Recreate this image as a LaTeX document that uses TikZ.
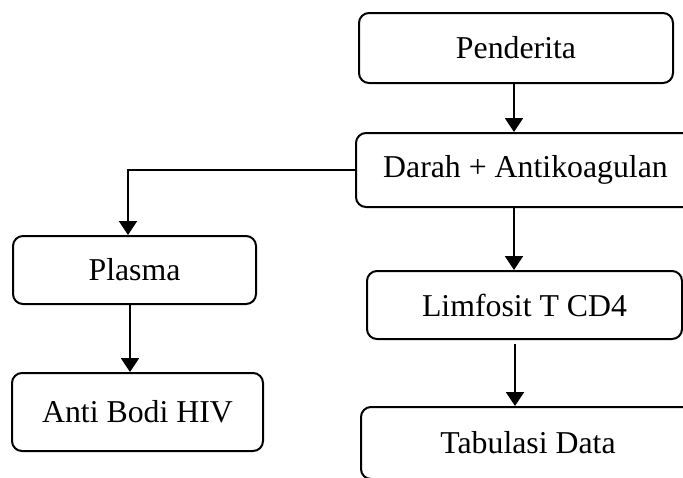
\documentclass[tikz,border=0pt]{standalone}
\usepackage{fontspec}
\setmainfont{Liberation Serif}
\usetikzlibrary{arrows.meta}
\begin{document}
\begin{tikzpicture}[x=0.5pt,y=-0.5pt,
  box/.style={draw,line width=1pt,rounded corners=5pt,inner sep=0pt,
    font=\fontsize{15.9}{19}\selectfont},
  conn/.style={line width=1pt,-{Triangle[length=7pt,width=9pt]}}]
\useasboundingbox (0,0) rectangle (683,477);
\clip (0,0) rectangle (683,477);
\node[box,minimum width=157pt,minimum height=35pt] (pend) at (516,48) {Penderita};
\node[box,minimum width=169.5pt,minimum height=37pt] (darah) at (525.5,170) {Darah + Antikoagulan};
\node[box,minimum width=121.5pt,minimum height=34pt] (plasma) at (134.5,270) {Plasma};
\node[box,minimum width=125.5pt,minimum height=39pt] (anti) at (137.5,412) {Anti Bodi HIV};
\node[box,minimum width=157.5pt,minimum height=34pt] (limf) at (524.5,305) {Limfosit T CD4};
\node[box,minimum width=167pt,minimum height=36pt] (tab) at (528,443) {Tabulasi Data};
\coordinate (xr) at (514,0);
\coordinate (xl) at (128,0);
\coordinate (xa) at (130,0);
\coordinate (xt) at (515,0);
\draw[conn] (xr |- pend.south) -- (xr |- darah.north);
\draw[conn] (xr |- darah.south) -- (xr |- limf.north);
\draw[conn] (darah.west) -| (xl |- plasma.north);
\draw[conn] (xa |- plasma.south) -- (xa |- anti.north);
\draw[conn,shorten <=2pt] (xt |- limf.south) -- (xt |- tab.north);
\end{tikzpicture}
\end{document}
